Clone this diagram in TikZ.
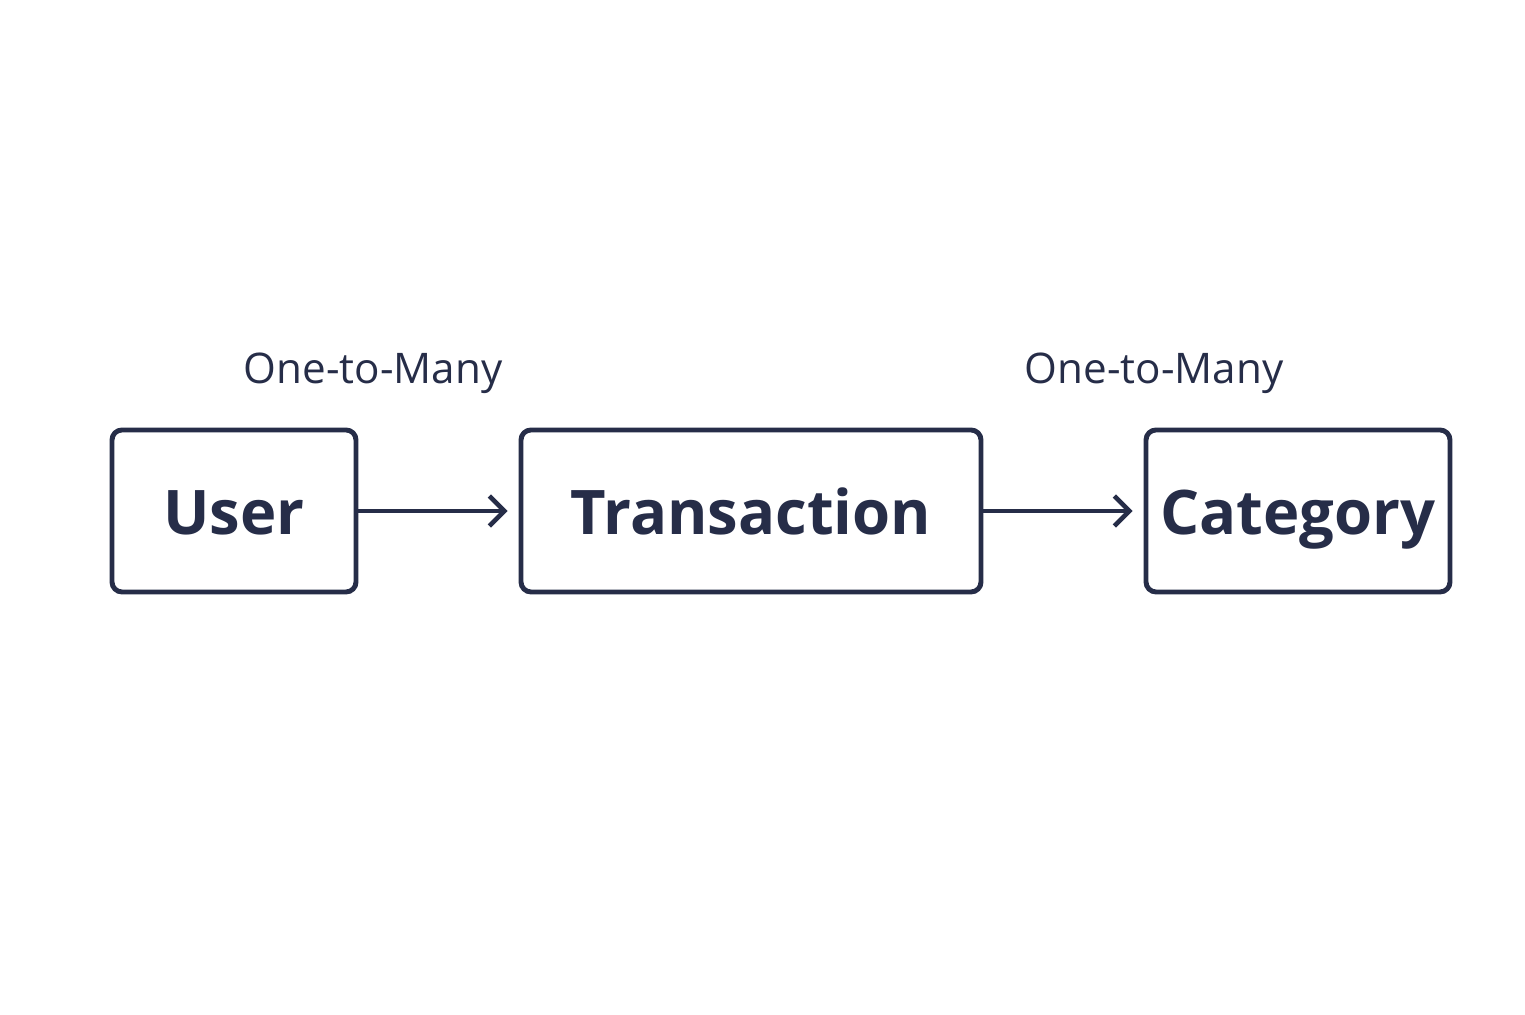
\documentclass[tikz,border=0pt]{standalone}
\usepackage{fontspec}
\setmainfont{Open Sans}
\usetikzlibrary{arrows.meta, positioning}
\definecolor{navy}{HTML}{262D48}

\begin{document}
\begin{tikzpicture}
    % Define styles
    \tikzset{
        entity/.style={draw=navy, line width=2.8pt, rounded corners=0.2cm, minimum height=3.24cm,
                       text=navy, text height=1.2cm, text depth=0.24cm,
                       font=\fontsize{35}{40}\selectfont\bfseries},
        relation/.style={text=navy, font=\fontsize{24}{28}\selectfont},
        link/.style={draw=navy, line width=2.6pt, -{Straight Barb[length=0.3cm, width=0.6cm, line width=2.6pt]}, shorten >=0.22cm}
    }
    \useasboundingbox (0,0) rectangle (30.5,20.3);

    % Entities
    \node[entity, minimum width=4.88cm] (user) at (4.68,10.08) {User};
    \node[entity, minimum width=9.2cm] (transaction) at (15.02,10.08) {Transaction};
    \node[entity, minimum width=6.08cm] (category) at (25.96,10.08) {Category};

    % Relations
    \draw[link] (user) -- (transaction);
    \draw[link] (transaction) -- (category);

    % Labels
    \node[relation] (rel1) at (7.46,12.84) {One-to-Many};
    \node[relation] (rel2) at (23.08,12.84) {One-to-Many};
\end{tikzpicture}
\end{document}
